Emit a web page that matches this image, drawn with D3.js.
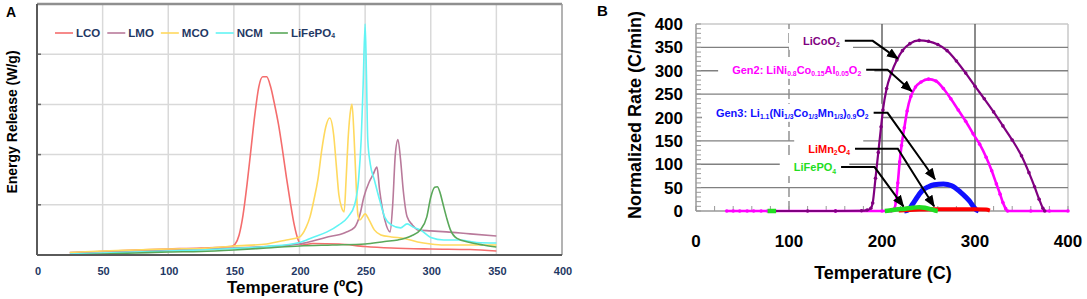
<!DOCTYPE html>
<html><head><meta charset="utf-8">
<script src="https://cdn.jsdelivr.net/npm/d3@7"></script>
<style>html,body{margin:0;padding:0;background:#fff;} svg{display:block;font-family:Arial,"Liberation Sans",sans-serif;}</style>
</head><body><svg id="c" width="1087" height="299"></svg>
<script>
// ---------- Panel A data (Energy Release, grid units) ----------
const namesA = ["LCO", "LMO", "MCO", "NCM", "LiFePO_{4}"];
const colorsA = ["#f46d6d", "#b97a9b", "#ffd95e", "#62f4f4", "#5aa85a"];
const xTicksA = [0, 50, 100, 150, 200, 250, 300, 350, 400];
const yGridA = [1, 2, 3, 4];
const lcoA = [[25,0.04],[50,0.07],[75,0.1],[100,0.12],[125,0.14],[148,0.17],[151,0.22],[154,0.4],[157,0.8],[160,1.4],[163,2.1],[166,2.8],[169,3.35],[172,3.55],[175,3.55],[178,3.35],[181,3.0],[184,2.6],[187,2.1],[190,1.55],[193,1.05],[196,0.6],[199,0.3],[202,0.2],[210,0.23],[230,0.22],[250,0.17],[270,0.14],[300,0.12],[330,0.11],[350,0.08]];
const lmoA = [[25,0.05],[50,0.07],[75,0.08],[100,0.1],[125,0.12],[150,0.14],[175,0.17],[200,0.22],[220,0.35],[235,0.45],[242,0.55],[246,0.8],[249,1.15],[253,1.45],[256,1.6],[259,1.75],[261,1.3],[263,0.95],[265,0.7],[269,0.46],[271,1.0],[273,2.0],[275,2.3],[277,1.9],[279,1.3],[282,0.76],[286,0.6],[290,0.5],[300,0.48],[312,0.46],[330,0.42],[350,0.38]];
const mcoA = [[25,0.05],[50,0.08],[75,0.1],[100,0.12],[125,0.13],[150,0.18],[175,0.22],[190,0.3],[200,0.36],[205,0.55],[208,0.76],[211,1.1],[214,1.5],[217,2.1],[220,2.55],[223,2.73],[226,2.4],[228,1.8],[230,1.2],[232,0.95],[234,0.86],[235.5,1.5],[237,2.3],[239,2.9],[240,3.0],[241.5,2.4],[243,1.5],[244.5,0.8],[246,0.7],[250,0.82],[253,0.7],[257,0.5],[262,0.4],[270,0.36],[280,0.33],[290,0.26],[300,0.22],[310,0.2],[330,0.2],[350,0.2]];
const ncmA = [[25,0.02],[50,0.04],[75,0.06],[100,0.08],[125,0.1],[150,0.13],[175,0.17],[200,0.25],[210,0.35],[221,0.46],[230,0.6],[237,0.76],[242,1.0],[245,1.5],[247,2.3],[248.5,3.4],[250,4.6],[251,3.6],[252,2.3],[254,1.8],[257,1.5],[261,1.1],[265,0.75],[270,0.6],[277,0.54],[282,0.62],[287,0.55],[292,0.5],[300,0.35],[310,0.3],[322,0.3],[335,0.25],[350,0.24]];
const lfpA = [[25,0.0],[50,0.02],[75,0.04],[100,0.06],[125,0.07],[150,0.1],[175,0.14],[200,0.18],[225,0.2],[250,0.22],[265,0.27],[275,0.3],[285,0.38],[292,0.5],[297,0.76],[300,1.15],[303,1.35],[305,1.36],[307,1.25],[309,1.05],[312,0.75],[315,0.5],[320,0.33],[330,0.25],[340,0.2],[350,0.16]];
const dataA = [lcoA, lmoA, mcoA, ncmA, lfpA];

// ---------- Panel B data (Normalized Rate, C/min) ----------
const xTicksB = [0, 100, 200, 300, 400];
const yTicksB = [0, 50, 100, 150, 200, 250, 300, 350, 400];
const licoB = [[85,0],[120,0],[150,0],[178,0.5],[184,2],[188,6],[190,17],[193,70],[196,125],[199,180],[201,216],[205,262],[210,295],[216,323],[222,343],[230,358],[240,365],[250,363],[260,356],[270,343],[280,321],[290,295],[300,267],[310,240],[320,212],[330,182],[340,152],[350,118],[358,82],[364,52],[369,25],[373,6],[375,0]];
const gen2B = [[33,0],[40,0],[47,0],[55,0],[62,0],[70,0],[77,0],[150,0],[200,0],[210,0],[213,4],[215,20],[217,60],[219,105],[221,140],[224,178],[227,214],[231,245],[236,265],[242,276],[250,282],[258,278],[266,262],[274,240],[282,216],[290,192],[298,165],[305,143],[312,115],[318,86],[323,58],[327,36],[330,18],[333,5],[335,0],[360,0],[380,0],[400,0]];
const gen3B = [[224,0],[228,2],[233,15],[238,30],[244,45],[250,52],[256,56],[266,58],[275,54],[284,41],[290,30],[295,19],[298,10],[301,3],[304,0]];
const lmoB = [[218,1],[230,2],[240,3],[255,4],[270,4],[285,4],[300,4],[312,3],[316,1]];
const lfpB = [[77,0],[86,0],[null,null],[203,0],[208,1],[215,3],[225,5],[233,7],[240,8],[246,7],[252,4],[257,1],[260,0]];
const namesB = ["LiCoO_{2}", "Gen2: LiNi_{0.8}Co_{0.15}Al_{0.05}O_{2}", "Gen3: Li_{1.1}(Ni_{1/3}Co_{1/3}Mn_{1/3})_{0.9}O_{2}", "LiMn_{2}O_{4}", "LiFePO_{4}"];
const colorsB = ["#800080", "#ff00ff", "#1010ff", "#ff0000", "#22dd22"];
// annotation leader anchors, in data units (temperature, rate)
const leadFrom = [[160,364],[183,302],[191,210],[171,133],[156,94]];
const leadBend = [[190,364],[206,302],[206,210],[217,133],[192,94]];
const leadTip  = [[217,326],[232,256],[257,68],[256,10],[223,10]];

const svg = d3.select("#c");
svg.append("rect").attr("width",1087).attr("height",299).attr("fill","#fff");

function richText(sel, str, subScale, shift) {
  const parts = str.split(/_\{([^}]*)\}/);
  parts.forEach((p, i) => {
    if (p === "") return;
    const sub = i % 2 === 1;
    const t = sel.append("tspan").text(p);
    if (sub) t.attr("font-size", subScale + "em").attr("dy", shift);
    const prevSub = i > 0 && (i - 1) % 2 === 1 && parts[i-1] !== "";
    if (!sub && i > 0 && prevSub) t.attr("dy", -shift);
  });
}

// ================= PANEL A =================
const xA = d3.scaleLinear().domain([0,400]).range([37,562]);
const yA = d3.scaleLinear().domain([0,5]).range([255,4]);
const gA = svg.append("g");
gA.selectAll(".vg").data(xTicksA.filter(v => v > 0 && v < 400)).enter().append("line")
  .attr("x1", d => xA(d)).attr("x2", d => xA(d)).attr("y1", yA(0)).attr("y2", yA(5))
  .attr("stroke", "#d9d9d9").attr("stroke-width", 1.5);
gA.selectAll(".hg").data(yGridA).enter().append("line")
  .attr("x1", xA(0)).attr("x2", xA(400)).attr("y1", d => yA(d)).attr("y2", d => yA(d))
  .attr("stroke", "#d9d9d9").attr("stroke-width", 1.5);
gA.selectAll(".yt").data(yGridA).enter().append("line")
  .attr("x1", xA(0)).attr("x2", xA(0)+4).attr("y1", d => yA(d)).attr("y2", d => yA(d))
  .attr("stroke", "#666").attr("stroke-width", 1.5);
gA.append("line").attr("x1", xA(0)).attr("x2", xA(400)).attr("y1", yA(5)).attr("y2", yA(5)).attr("stroke", "#8f8f8f").attr("stroke-width", 2.5);
gA.append("line").attr("x1", xA(400)).attr("x2", xA(400)).attr("y1", yA(5)).attr("y2", yA(0)).attr("stroke", "#9a9a9a").attr("stroke-width", 1.5);

const lineA = d3.line().x(d => xA(d[0])).y(d => yA(d[1])).curve(d3.curveMonotoneX);
dataA.forEach((ser, i) => {
  gA.append("path").datum(ser).attr("d", lineA).attr("fill", "none")
    .attr("stroke", colorsA[i]).attr("stroke-width", 1.6).attr("stroke-linejoin", "round");
});
gA.append("line").attr("x1", xA(0)).attr("x2", xA(0)).attr("y1", yA(5)).attr("y2", yA(0)).attr("stroke", "#5a5a5a").attr("stroke-width", 2);
gA.append("line").attr("x1", xA(0)).attr("x2", xA(400)).attr("y1", yA(0)).attr("y2", yA(0)).attr("stroke", "#5a5a5a").attr("stroke-width", 2);

gA.selectAll(".xl").data(xTicksA).enter().append("text")
  .attr("x", d => xA(d) + 1).attr("y", 275).attr("text-anchor", "middle")
  .attr("font-size", 11).attr("font-weight", "bold").attr("fill", "#1f3864").text(d => d);
gA.append("text").attr("x", 295).attr("y", 293).attr("text-anchor", "middle")
  .attr("font-size", 17).attr("font-weight", "bold").attr("fill", "#000").text("Temperature (ºC)");
gA.append("text").attr("transform", "translate(17,122) rotate(-90)").attr("text-anchor", "middle")
  .attr("font-size", 14).attr("font-weight", "bold").attr("fill", "#000").text("Energy Release (W/g)");
svg.append("text").attr("x", 6).attr("y", 17).attr("font-size", 14).attr("font-weight", "bold").text("A");

// legend A
let lx = 55;
namesA.forEach((n, i) => {
  gA.append("line").attr("x1", lx).attr("x2", lx + 18).attr("y1", 33).attr("y2", 33)
    .attr("stroke", colorsA[i]).attr("stroke-width", 1.6);
  const t = gA.append("text").attr("x", lx + 21).attr("y", 37).attr("font-size", 11.5)
    .attr("font-weight", "bold").attr("fill", "#1f3864");
  richText(t, n, 0.6, 1);
  lx += 21 + t.node().getComputedTextLength() + 7;
});

// ================= PANEL B =================
const xB = d3.scaleLinear().domain([0,400]).range([696,1068]);
const yB = d3.scaleLinear().domain([0,400]).range([211,24]);
const gB = svg.append("g");
gB.append("line").attr("x1", xB(0)).attr("x2", xB(400)).attr("y1", yB(400)).attr("y2", yB(400)).attr("stroke", "#c8c8c8").attr("stroke-width", 1.5);
gB.append("line").attr("x1", xB(400)).attr("x2", xB(400)).attr("y1", yB(400)).attr("y2", yB(0)).attr("stroke", "#c8c8c8").attr("stroke-width", 1.5);
gB.selectAll(".hg").data(yTicksB.filter(v => v > 0 && v < 400)).enter().append("line")
  .attr("x1", xB(0)).attr("x2", xB(400)).attr("y1", d => yB(d)).attr("y2", d => yB(d))
  .attr("stroke", "#808080").attr("stroke-width", 1.3);
gB.selectAll(".vg").data(xTicksB.filter(v => v > 0 && v < 400)).enter().append("line")
  .attr("x1", d => xB(d)).attr("x2", d => xB(d)).attr("y1", yB(0)).attr("y2", yB(400))
  .attr("stroke", d => d === 100 ? "#8a8a8a" : "#5a5a5a").attr("stroke-width", 1.4)
  .attr("stroke-dasharray", d => d === 100 ? "10,4" : null);
gB.selectAll(".my").data(d3.range(0, 401, 10)).enter().append("line")
  .attr("x1", xB(0)).attr("x2", xB(0) + 5).attr("y1", d => yB(d)).attr("y2", d => yB(d))
  .attr("stroke", "#999").attr("stroke-width", 1);
gB.selectAll(".mx").data(d3.range(0, 401, 20)).enter().append("line")
  .attr("x1", d => xB(d)).attr("x2", d => xB(d)).attr("y1", yB(0)).attr("y2", yB(0) - 5)
  .attr("stroke", "#999").attr("stroke-width", 1);
gB.append("line").attr("x1", xB(0)).attr("x2", xB(0)).attr("y1", yB(400)).attr("y2", yB(0)).attr("stroke", "#999").attr("stroke-width", 1.5);
gB.append("line").attr("x1", xB(0)).attr("x2", xB(400)).attr("y1", yB(0)).attr("y2", yB(0)).attr("stroke", "#999").attr("stroke-width", 1.5);

const defs = svg.append("defs");
defs.append("marker").attr("id", "arr").attr("viewBox", "0 0 10 10").attr("refX", 9).attr("refY", 5)
  .attr("markerWidth", 6).attr("markerHeight", 6).attr("orient", "auto")
  .append("path").attr("d", "M0,1 L10,5 L0,9 z").attr("fill", "#000");
const annG = gB.append("g");
namesB.forEach((n, i) => {
  const fx = xB(leadFrom[i][0]), fy = yB(leadFrom[i][1]);
  const g = annG.append("g");
  const t = g.append("text").attr("x", fx - 5).attr("y", fy + 4).attr("text-anchor", "end")
    .attr("font-size", 11).attr("font-weight", "bold").attr("fill", colorsB[i]);
  richText(t, n, 0.62, 2.5);
  const bb = t.node().getBBox();
  g.insert("rect", "text").attr("x", bb.x - 14).attr("y", fy - 9).attr("width", bb.width + 14 + 13).attr("height", 18).attr("fill", "#fff");
});

const lineB = d3.line().defined(d => d[0] !== null).x(d => xB(d[0])).y(d => yB(d[1])).curve(d3.curveMonotoneX);
function drawB(ser, color, w, dots) {
  gB.append("path").datum(ser).attr("d", lineB).attr("fill", "none").attr("stroke", color)
    .attr("stroke-width", w).attr("stroke-linejoin", "round");
  if (dots) gB.selectAll(null).data(ser.filter(d => d[0] !== null)).enter().append("circle")
    .attr("cx", d => xB(d[0])).attr("cy", d => yB(d[1])).attr("r", 1.8).attr("fill", color);
}
drawB(gen2B, colorsB[1], 2.6, true);
drawB(licoB, colorsB[0], 2.2, true);
drawB(gen3B, colorsB[2], 5, false);
drawB(lmoB, colorsB[3], 4, false);
drawB(lfpB, colorsB[4], 4.5, false);

namesB.forEach((n, i) => {
  const pts = [leadFrom[i], leadBend[i], leadTip[i]].map(p => [xB(p[0]), yB(p[1])]);
  gB.append("path").attr("d", d3.line()(pts)).attr("fill", "none").attr("stroke", "#000")
    .attr("stroke-width", 2).attr("marker-end", "url(#arr)");
});

gB.selectAll(".yl").data(yTicksB).enter().append("text")
  .attr("x", 683).attr("y", d => yB(d) + 6).attr("text-anchor", "end")
  .attr("font-size", 17).attr("font-weight", "bold").attr("fill", "#000").text(d => d);
gB.selectAll(".xl").data(xTicksB).enter().append("text")
  .attr("x", d => xB(d)).attr("y", 247).attr("text-anchor", "middle")
  .attr("font-size", 17).attr("font-weight", "bold").attr("fill", "#000").text(d => d);
gB.append("text").attr("x", 883).attr("y", 279).attr("text-anchor", "middle")
  .attr("font-size", 18).attr("font-weight", "bold").text("Temperature (C)");
gB.append("text").attr("transform", "translate(641,115) rotate(-90)").attr("text-anchor", "middle")
  .attr("font-size", 18).attr("font-weight", "bold").text("Normalized Rate (C/min)");
svg.append("text").attr("x", 597).attr("y", 16).attr("font-size", 15).attr("font-weight", "bold").text("B");
</script></body></html>
